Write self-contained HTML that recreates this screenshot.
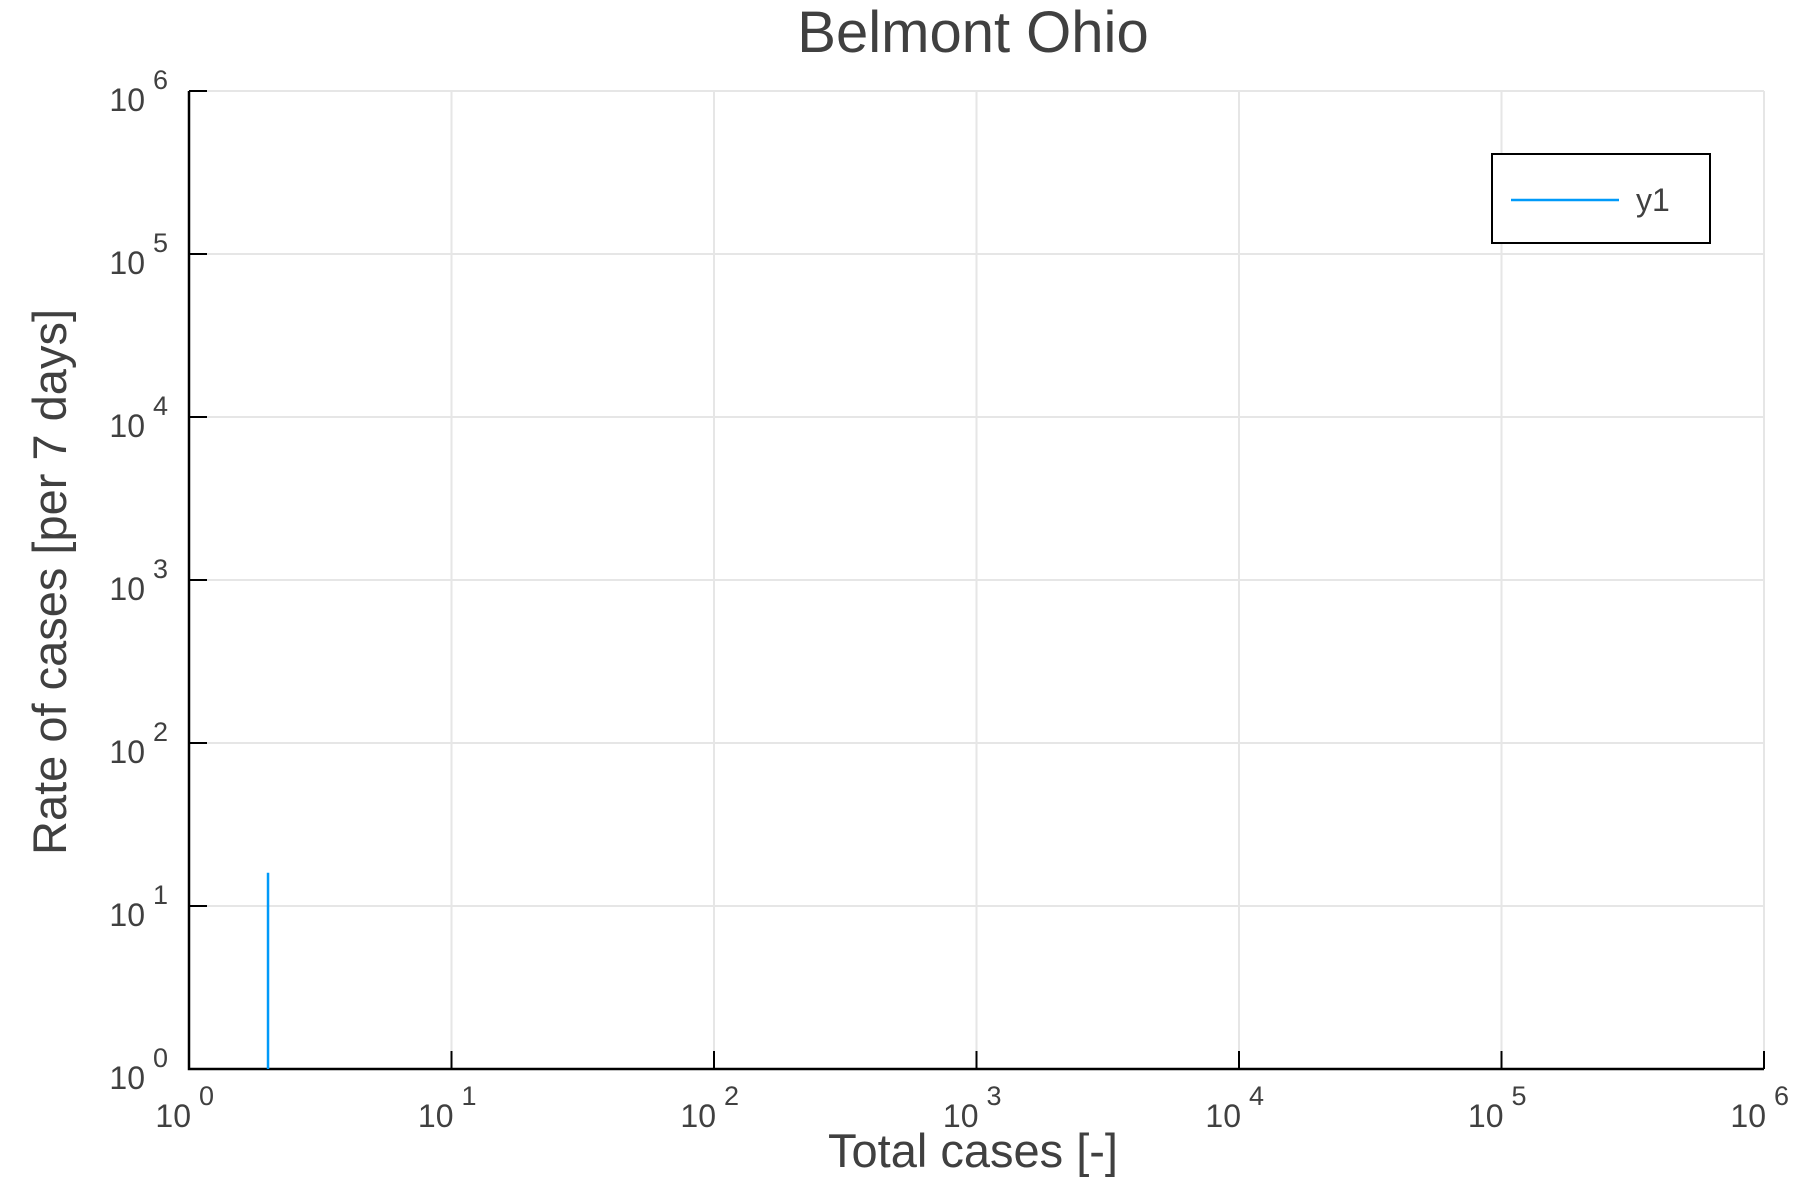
<!DOCTYPE html>
<html><head><meta charset="utf-8"><style>body{margin:0;background:#fff}svg{display:block}text{font-family:"Liberation Sans",sans-serif;fill:#404040}</style></head>
<body>
<svg id="chart" width="1800" height="1200" xmlns="http://www.w3.org/2000/svg">
<text x="973" y="52" font-size="58" text-anchor="middle">Belmont Ohio</text>
<text x="973" y="1167" font-size="47" text-anchor="middle">Total cases [-]</text>
<text transform="translate(66,582) rotate(-90)" font-size="47" text-anchor="middle">Rate of cases [per 7 days]</text>
<g id="grid"></g><g id="axes"></g><g id="series"></g>
<g>
<rect x="1492" y="154" width="218" height="89" fill="#fff" stroke="#000" stroke-width="2"/>
<line x1="1511" y1="200" x2="1619" y2="200" stroke="#009af9" stroke-width="2.5"/>
<text x="1636" y="211" font-size="32">y1</text>
</g>
</svg>
<script>
const xDecades=[0,1,2,3,4,5,6];
const yDecades=[0,1,2,3,4,5,6];
const seriesX=[2,2];
const seriesY=[1,16];
const L=189,R=1764,T=91,B=1069,NS="http://www.w3.org/2000/svg";
const sx=v=>L+(Math.log10(v)-0)/6*(R-L);
const sy=v=>B-(Math.log10(v)-0)/6*(B-T);
function mk(t,a,p){const e=document.createElementNS(NS,t);for(const k in a)e.setAttribute(k,a[k]);p.appendChild(e);return e;}
const grid=document.getElementById('grid'),axes=document.getElementById('axes'),ser=document.getElementById('series');
xDecades.forEach(d=>{const x=sx(Math.pow(10,d));
const g=mk('line',{x1:x,y1:T,x2:x,y2:B,stroke:'#e6e6e6','stroke-width':2},grid);


const tk=mk('line',{x1:x,y1:B,x2:x,y2:B-18,stroke:'#000','stroke-width':2},axes);


const t=mk('text',{x:x+2,y:B+58,'font-size':32,'text-anchor':'end'},axes);t.textContent='10';


const s=mk('text',{x:x+10,y:B+36,'font-size':27},axes);s.textContent=String(d);


});
yDecades.forEach(d=>{const y=sy(Math.pow(10,d));
const g=mk('line',{x1:L,y1:y,x2:R,y2:y,stroke:'#e6e6e6','stroke-width':2},grid);


const tk=mk('line',{x1:L,y1:y,x2:L+18,y2:y,stroke:'#000','stroke-width':2},axes);


const t=mk('text',{x:145,y:y+20,'font-size':32,'text-anchor':'end'},axes);t.textContent='10';


const s=mk('text',{x:153,y:y-2,'font-size':27},axes);s.textContent=String(d);


});
const ax=mk('path',{d:`M${L},${T}V${B}H${R}`,fill:'none',stroke:'#000','stroke-width':2.5},axes);


const pts=seriesX.map((v,i)=>sx(v)+','+sy(seriesY[i])).join(' ');
const pl=mk('polyline',{points:pts,fill:'none',stroke:'#009af9','stroke-width':2.5},ser);


</script>
</body></html>
